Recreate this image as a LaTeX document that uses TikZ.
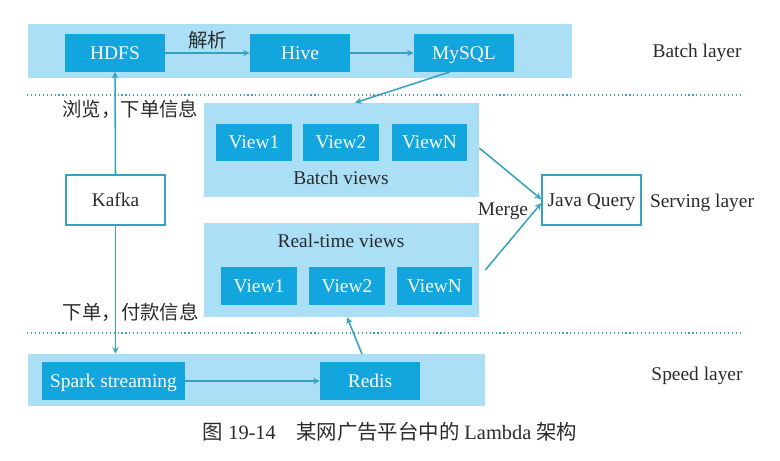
\documentclass[tikz,border=0pt]{standalone}
\usepackage{fontspec}
\setmainfont{Liberation Serif}
\newfontfamily\cjk{Noto Sans CJK SC}
\usepackage{tikz}
\usetikzlibrary{positioning, calc, arrows}
\definecolor{bandblue}{HTML}{AADFF6}
\definecolor{boxblue}{HTML}{12A5DE}
\definecolor{linkteal}{HTML}{35A2BF}
\definecolor{txtgray}{HTML}{2B2B2B}

\begin{document}
\begin{tikzpicture}[x=0.025cm, y=-0.025cm, font=\fontsize{13.8}{16}\selectfont,
    band/.style={fill=bandblue, inner sep=0pt},
    box/.style={fill=boxblue, text=white, minimum width=2.5cm, minimum height=0.93cm, inner sep=0pt, text height=10pt, text depth=1pt},
    vbox/.style={box, minimum width=1.88cm},
    wbox/.style={draw=linkteal, line width=1pt, fill=white, text=txtgray, minimum width=2.48cm, minimum height=1.25cm, inner sep=0pt, text height=10pt, text depth=1pt},
    flow/.style={->, >=stealth, draw=linkteal, line width=1.1pt},
    lbl/.style={text=txtgray, inner sep=1pt}]
    \useasboundingbox (0,0) rectangle (780,460);

    %Batch layer
    \node[band, minimum width=13.6cm, minimum height=1.35cm] (batch) at (300,51) {};
    \node[box] (hdfs) at (115,53) {HDFS};
    \node[box] (hive) at (300,53) {Hive};
    \node[box] (mysql) at (464,53) {MySQL};
    \node[lbl] (batchlayer) at (697,53) {Batch layer};

    %layer separators
    \draw[linkteal, dotted, line width=0.8pt] (27,95) -- (742,95);
    \draw[linkteal, dotted, line width=0.8pt] (27,333) -- (742,333);

    %Serving layer
    \node[band, minimum width=6.875cm, minimum height=2.35cm] (bviews) at (341.5,150) {};
    \node[vbox] (bview1) at (254,142.5) {View1};
    \node[vbox] (bview2) at (341,142.5) {View2};
    \node[vbox] (bviewn) at (429.5,142.5) {ViewN};
    \node[lbl] (bviewslbl) at (341,178) {Batch views};

    \node[band, minimum width=6.875cm, minimum height=2.35cm] (rviews) at (341.5,270) {};
    \node[lbl] (rviewslbl) at (341,241) {Real-time views};
    \node[vbox] (rview1) at (259,286) {View1};
    \node[vbox] (rview2) at (347,286) {View2};
    \node[vbox] (rviewn) at (434.5,286) {ViewN};

    \node[wbox] (kafka) at (115.5,200) {Kafka};
    \node[wbox] (jquery) at (591.5,200) {Java Query};
    \node[lbl] (servinglayer) at (702,203) {Serving layer};

    %Speed layer
    \node[band, minimum width=11.425cm, minimum height=1.3cm] (speed) at (256.5,380) {};
    \node[box, minimum width=3.575cm] (spark) at (113.5,381) {Spark streaming};
    \node[box] (redis) at (370,381) {Redis};
    \node[lbl] (speedlayer) at (697,376) {Speed layer};

    %links
    \draw[flow] (hdfs) -- node[lbl, above=1pt]{\cjk 解析} (hive);
    \draw[flow] (hive) -- (mysql);
    \draw[flow] ([xshift=-0.35cm]mysql.south) -- ([xshift=0.34cm]bviews.north);
    \draw[flow] (kafka.north) -- node[lbl, pos=0.63, xshift=0.38cm]{\cjk 浏览，下单信息} (hdfs.south);
    \draw[flow] (kafka.south) -- node[lbl, pos=0.68, xshift=0.38cm]{\cjk 下单，付款信息} (kafka.south |- speed.north);
    \draw[flow] (spark) -- (redis);
    \draw[flow] ($(redis.north)+(-8,-8)$) -- ([xshift=0.14cm]rviews.south);
    \draw[flow] ([yshift=0.05cm]bviews.east) -- ([yshift=0.02cm]jquery.west);
    \draw[flow] ($(rviews.east)+(6,0)$) -- node[lbl, pos=0.88, left=3pt]{Merge} ([yshift=-0.08cm]jquery.west);

    %caption
    \node[lbl, font=\fontsize{14.5}{17}\selectfont] (caption) at (390,432) {{\cjk 图} 19-14\quad{\cjk 某网广告平台中的} Lambda {\cjk 架构}};
\end{tikzpicture}
\end{document}
